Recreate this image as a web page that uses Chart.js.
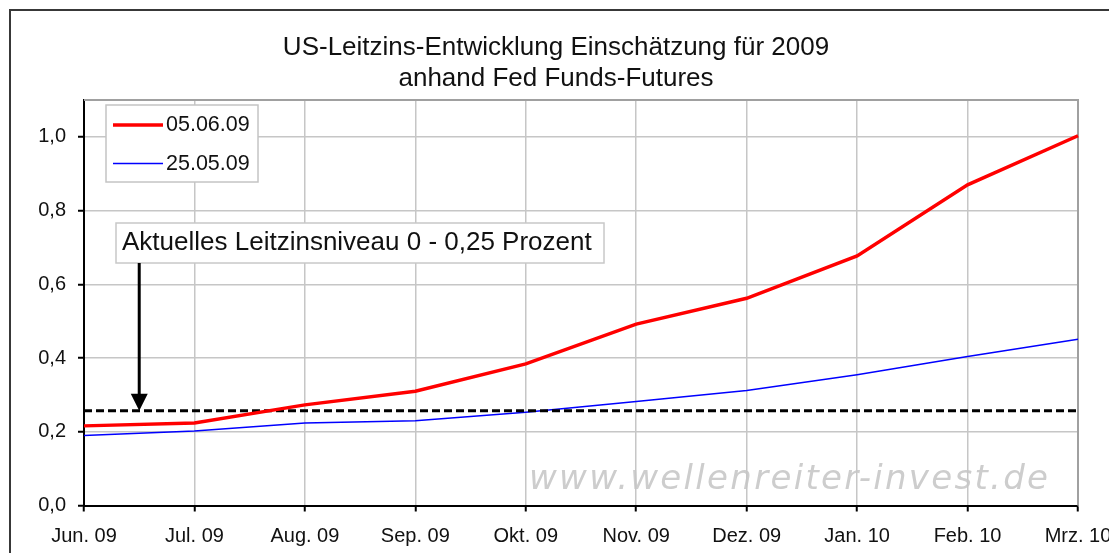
<!DOCTYPE html>
<html>
<head>
<meta charset="utf-8">
<script src="https://cdn.jsdelivr.net/npm/chart.js@4/dist/chart.umd.min.js"></script>
<style>
  html, body { margin: 0; padding: 0; background: #ffffff; }
  #wrap { width: 1109px; height: 553px; }
</style>
</head>
<body>
<div id="wrap"><canvas id="c" width="1109" height="553"></canvas></div>
<script>
// ---- data ----
const months = ['Jun. 09', 'Jul. 09', 'Aug. 09', 'Sep. 09', 'Okt. 09', 'Nov. 09', 'Dez. 09', 'Jan. 10', 'Feb. 10', 'Mrz. 10'];
const series0506 = [0.216, 0.224, 0.273, 0.310, 0.384, 0.492, 0.562, 0.677, 0.870, 1.003];
const series2505 = [0.190, 0.202, 0.224, 0.230, 0.253, 0.282, 0.312, 0.355, 0.404, 0.451];
const currentLevel = [0.257, 0.257, 0.257, 0.257, 0.257, 0.257, 0.257, 0.257, 0.257, 0.257];
const seriesNames = ['05.06.09', '25.05.09'];
const yTickValues = [0.0, 0.2, 0.4, 0.6, 0.8, 1.0];
const titleLines = ['US-Leitzins-Entwicklung Einschätzung für 2009', 'anhand Fed Funds-Futures'];
const annotationText = 'Aktuelles Leitzinsniveau 0 - 0,25 Prozent';
const watermarkText = 'www.wellenreiter-invest.de';

const FONT = "'Liberation Sans', Arial, sans-serif";

const decorations = {
  id: 'decorations',
  beforeDraw(chart) {
    const ctx = chart.ctx;
    ctx.save();
    ctx.fillStyle = '#ffffff';
    ctx.fillRect(0, 0, chart.width, chart.height);
    // outer frame
    ctx.strokeStyle = '#383838';
    ctx.lineWidth = 2;
    ctx.beginPath();
    ctx.moveTo(10, chart.height);
    ctx.lineTo(10, 10);
    ctx.lineTo(chart.width, 10);
    ctx.stroke();
    // title
    ctx.fillStyle = '#111111';
    ctx.font = "26px " + FONT;
    ctx.textAlign = 'center';
    ctx.textBaseline = 'alphabetic';
    ctx.fillText(titleLines[0], 556, 55);
    ctx.fillText(titleLines[1], 556, 86);
    // watermark
    ctx.font = "oblique 34px 'DejaVu Sans', Verdana, sans-serif";
    ctx.textAlign = 'left';
    ctx.letterSpacing = '2.3px';
    ctx.fillStyle = '#cdcdcd';
    ctx.fillText(watermarkText, 529, 489);
    ctx.restore();
  },
  beforeDatasetsDraw(chart) {
    const ctx = chart.ctx, a = chart.chartArea;
    ctx.save();
    ctx.strokeStyle = '#a0a0a0';
    ctx.lineWidth = 2;
    ctx.beginPath();
    ctx.moveTo(a.left, a.top);
    ctx.lineTo(a.right, a.top);
    ctx.lineTo(a.right, a.bottom);
    ctx.stroke();
    ctx.restore();
  },
  afterDraw(chart) {
    const ctx = chart.ctx;
    const xs = chart.scales.x, ys = chart.scales.y;
    ctx.save();
    // legend box
    ctx.fillStyle = '#ffffff';
    ctx.fillRect(106, 105, 152, 77);
    ctx.strokeStyle = '#c4c4c4';
    ctx.lineWidth = 1.5;
    ctx.strokeRect(106, 105, 152, 77);
    const ds = chart.data.datasets;
    const rows = [125, 163.5];
    for (let i = 0; i < 2; i++) {
      ctx.strokeStyle = ds[i].borderColor;
      ctx.lineWidth = ds[i].borderWidth;
      ctx.beginPath();
      ctx.moveTo(113, rows[i]);
      ctx.lineTo(163, rows[i]);
      ctx.stroke();
      ctx.fillStyle = '#111111';
      ctx.font = "21.5px " + FONT;
      ctx.textAlign = 'left';
      ctx.textBaseline = 'middle';
      ctx.fillText(seriesNames[i], 166, rows[i] + 0.5);
    }
    // annotation box
    ctx.fillStyle = '#ffffff';
    ctx.fillRect(116, 223, 488, 40);
    ctx.strokeStyle = '#c8c8c8';
    ctx.lineWidth = 1.5;
    ctx.strokeRect(116, 223, 488, 40);
    ctx.fillStyle = '#111111';
    ctx.font = "26px " + FONT;
    ctx.textAlign = 'left';
    ctx.textBaseline = 'alphabetic';
    ctx.fillText(annotationText, 122, 250);
    // arrow to the current level
    const ax = xs.getPixelForValue(0.5);
    const tipY = ys.getPixelForValue(currentLevel[0]);
    ctx.strokeStyle = '#000000';
    ctx.fillStyle = '#000000';
    ctx.lineWidth = 3;
    ctx.beginPath();
    ctx.moveTo(ax, 263);
    ctx.lineTo(ax, tipY - 16);
    ctx.stroke();
    ctx.beginPath();
    ctx.moveTo(ax - 8.5, tipY - 17);
    ctx.lineTo(ax + 8.5, tipY - 17);
    ctx.lineTo(ax, tipY);
    ctx.closePath();
    ctx.fill();
    ctx.restore();
  }
};

new Chart(document.getElementById('c'), {
  type: 'line',
  data: {
    labels: months,
    datasets: [
      { label: seriesNames[0], data: series0506, borderColor: '#ff0000', borderWidth: 3.5, pointRadius: 0, tension: 0, fill: false, order: 1 },
      { label: seriesNames[1], data: series2505, borderColor: '#0000ff', borderWidth: 1.5, pointRadius: 0, tension: 0, fill: false, order: 3 },
      { label: 'Leitzins', data: currentLevel, borderColor: '#000000', borderWidth: 3, borderDash: [8, 4], pointRadius: 0, tension: 0, fill: false, order: 2 }
    ]
  },
  options: {
    responsive: false,
    animation: false,
    devicePixelRatio: 1,
    layout: { padding: { left: 0, top: 100, right: 31, bottom: 0 } },
    plugins: { legend: { display: false }, title: { display: false }, tooltip: { enabled: false } },
    scales: {
      x: {
        type: 'category',
        offset: false,
        grid: { color: '#c6c6c6', lineWidth: 1.5, offset: false, tickLength: 6, tickColor: '#000000', tickWidth: 2 },
        border: { color: '#000000', width: 2 },
        ticks: { color: '#111111', font: { family: FONT, size: 20 }, padding: 13, maxRotation: 0, autoSkip: false },
        afterFit(scale) { scale.height = 47.5; scale.paddingLeft = 0; scale.paddingRight = 0; }
      },
      y: {
        min: 0, max: 1.1,
        afterBuildTicks(scale) { scale.ticks = yTickValues.map(v => ({ value: v })); },
        grid: { color: '#c6c6c6', lineWidth: 1.5, tickLength: 6, tickColor: '#000000', tickWidth: 2 },
        border: { color: '#000000', width: 2 },
        ticks: {
          color: '#111111', font: { family: FONT, size: 20 }, padding: 12,
          callback: v => Number(v).toFixed(1).replace('.', ',')
        },
        afterFit(scale) { scale.width = 84; scale.paddingTop = 0; scale.paddingBottom = 0; }
      }
    }
  },
  plugins: [decorations]
});
</script>
</body>
</html>
